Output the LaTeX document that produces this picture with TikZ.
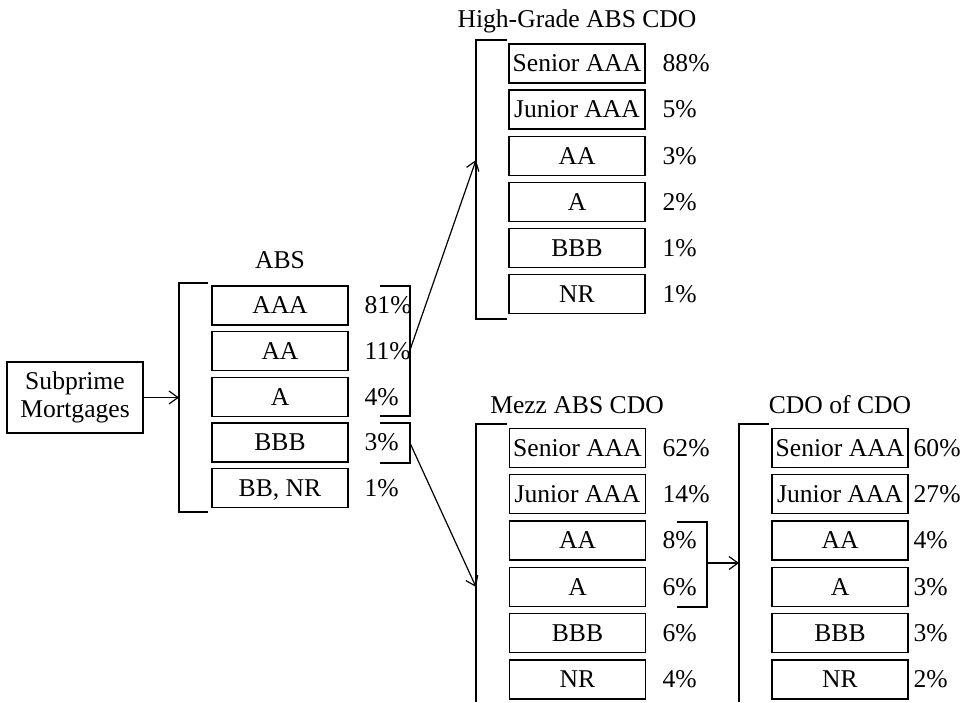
\documentclass[tikz,border=0pt]{standalone}
\usepackage{fontspec}
\setmainfont{Liberation Serif}
\usetikzlibrary{arrows.meta}
\begin{document}
\begin{tikzpicture}[x=0.5pt,y=-0.5pt,
  font=\fontsize{12.8}{13.5}\selectfont,
  line width=0.65pt,
  tranche/.style={draw, minimum width=68pt, minimum height=19.5pt,
    inner sep=0pt, text height=9.5pt, text depth=1.2pt},
  pct/.style={anchor=base west, inner sep=0pt},
  heading/.style={anchor=base, inner sep=0pt},
  link/.style={-{Straight Barb[length=4.5pt,width=6.5pt]}, line width=0.6pt}]
\useasboundingbox (0,0) rectangle (969,702);

% pool of loans
\node[draw, minimum width=68pt, minimum height=35.5pt, align=center,
  inner sep=0pt] (sub) at (75,397.5) {Subprime\\[0.5pt]Mortgages};

% ABS tranches
\node[heading] (absT) at (280,268) {ABS};
\foreach \name/\lab/\p [count=\i from 0] in
  {abs1/AAA/81\%, abs2/AA/11\%, abs3/A/4\%, abs4/BBB/3\%, abs5/{BB, NR}/1\%}
{
  \node[tranche] (\name) at (280,305.5+45.7*\i) {\lab};
  \node[pct] (\name p) at (364,0 |- \name.base) {\p};
}

% High-Grade ABS CDO tranches
\node[heading] (hgT) at (577,27) {High-Grade ABS CDO};
\foreach \name/\lab/\p [count=\i from 0] in
  {hg1/Senior AAA/88\%, hg2/Junior AAA/5\%, hg3/AA/3\%,
   hg4/A/2\%, hg5/BBB/1\%, hg6/NR/1\%}
{
  \node[tranche] (\name) at (577,63.5+46.1*\i) {\lab};
  \node[pct] (\name p) at (662,0 |- \name.base) {\p};
}

% Mezz ABS CDO tranches
\node[heading] (mzT) at (577,413) {Mezz ABS CDO};
\foreach \name/\lab/\p [count=\i from 0] in
  {mz1/Senior AAA/62\%, mz2/Junior AAA/14\%, mz3/AA/8\%,
   mz4/A/6\%, mz5/BBB/6\%, mz6/NR/4\%}
{
  \node[tranche] (\name) at (577.5,448+46.3*\i) {\lab};
  \node[pct] (\name p) at (662,0 |- \name.base) {\p};
}

% CDO of CDO tranches
\node[heading] (ccT) at (840,413) {CDO of CDO};
\foreach \name/\lab/\p [count=\i from 0] in
  {cc1/Senior AAA/60\%, cc2/Junior AAA/27\%, cc3/AA/4\%,
   cc4/A/3\%, cc5/BBB/3\%, cc6/NR/2\%}
{
  \node[tranche] (\name) at (840,448+46.3*\i) {\lab};
  \node[pct] (\name p) at (913,0 |- \name.base) {\p};
}

% brackets grouping each structure
\coordinate (absIn) at (179,397.5);
\draw (208,283) -- (179,283) -- (179,512) -- (208,512);
\coordinate (hgIn) at (476,160);
\draw (507,40) -- (476,40) -- (476,319) -- (507,319);
\coordinate (mzIn) at (476,587);
\draw (507,424) -- (476,424) -- (476,702);
\coordinate (ccIn) at (739,563);
\draw (769,424) -- (739,424) -- (739,702);

% brackets gathering the tranches that are passed on
\coordinate (absHi) at (410,350);
\draw (380,286) -- (410,286) -- (410,416) -- (380,416);
\coordinate (absMz) at (410,443);
\draw (380,423) -- (410,423) -- (410,463) -- (380,463);
\coordinate (mzOut) at (707,563);
\draw (677,522) -- (707,522) -- (707,607) -- (677,607);

% flows between the structures
\draw[link] (sub.east) -- (absIn);
\draw[link] (absHi) -- (hgIn);
\draw[link] (absMz) -- (mzIn);
\draw[link] (mzOut) -- (ccIn);
\end{tikzpicture}
\end{document}
